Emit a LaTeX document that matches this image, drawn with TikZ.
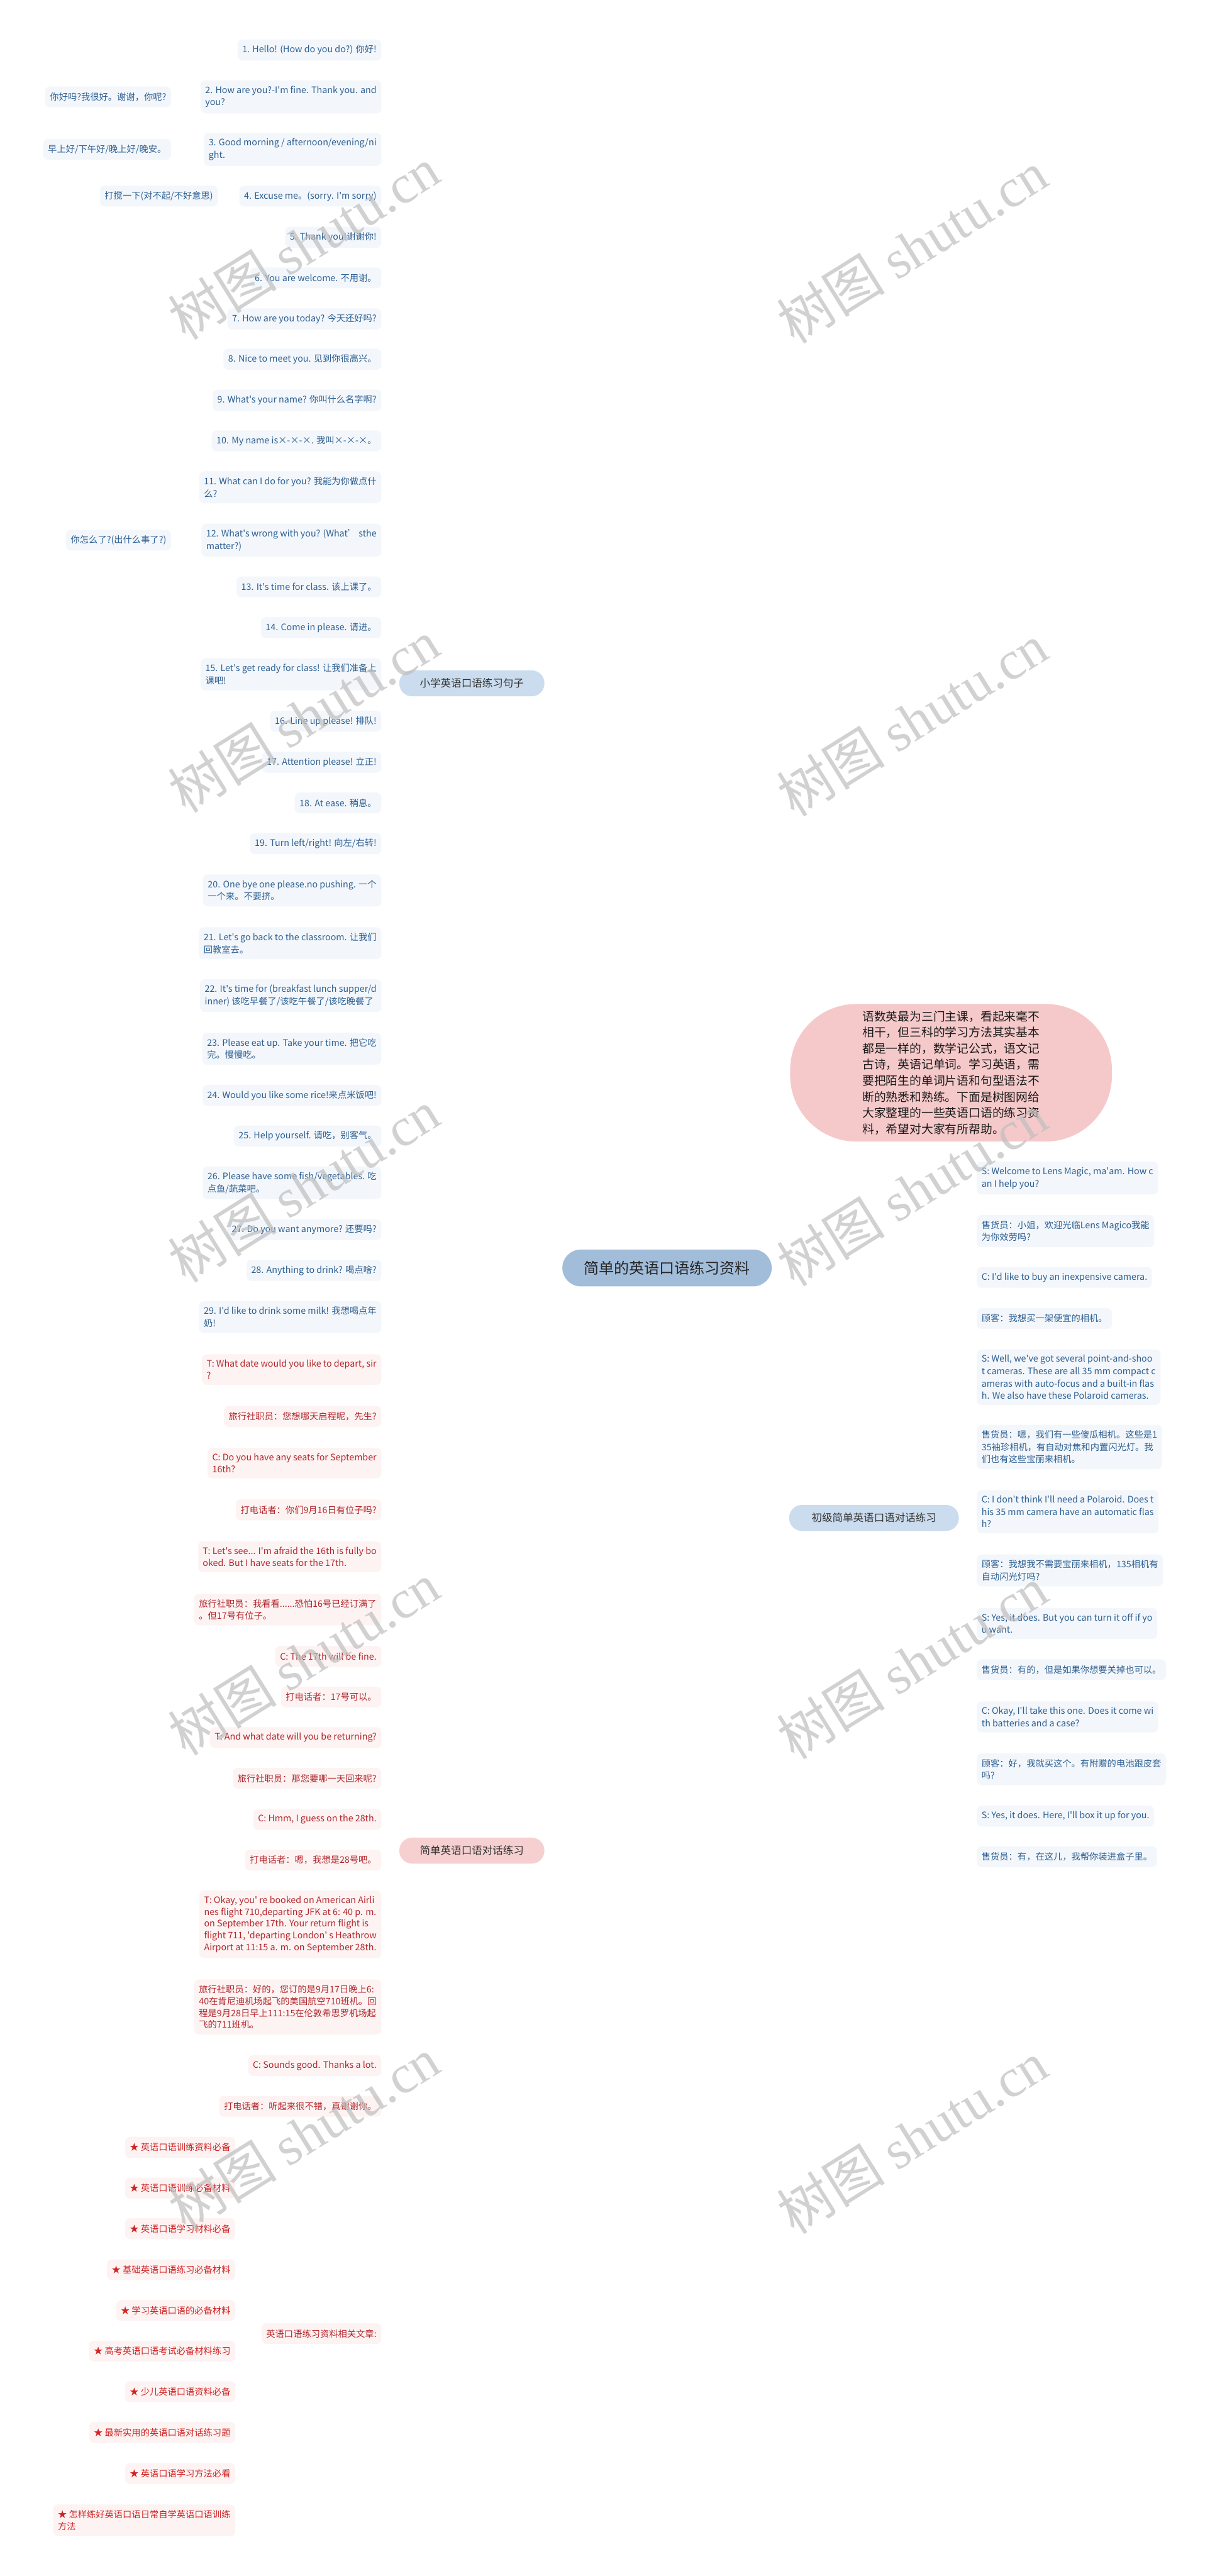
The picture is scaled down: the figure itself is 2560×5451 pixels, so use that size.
\documentclass[tikz,border=0pt]{standalone}
\usepackage{fontspec}
\setmainfont{Noto Sans CJK SC}[Ligatures=TeXOff]
\newfontfamily\wmserif{Liberation Serif}
\usetikzlibrary{calc}
\pgfdeclarelayer{bg}
\pgfsetlayers{bg,main}
\definecolor{bfill}{HTML}{F3F7FB}
\definecolor{btext}{HTML}{2D5F92}
\definecolor{bline}{HTML}{C6D8EB}
\definecolor{rfill}{HTML}{FDF3F3}
\definecolor{rtext}{HTML}{B3262B}
\definecolor{rline}{HTML}{F1C2C2}
\definecolor{stext}{HTML}{D02424}
\definecolor{bbfill}{HTML}{CADCEE}
\definecolor{rbfill}{HTML}{F6D0D0}
\definecolor{cfill}{HTML}{A2BDDA}
\definecolor{ifill}{HTML}{F5C9CA}
\definecolor{wm}{HTML}{BEBEBE}
\newcommand\fs[2]{\fontsize{#1}{#2}\selectfont}
\begin{document}
\begin{tikzpicture}[x=1pt,y=-1pt,
 leafb/.style={fill=bfill,text=btext,rounded corners=10,inner xsep=10,inner ysep=12,minimum height=44,align=left,font=\fs{19}{26}},
 leafr/.style={fill=rfill,text=rtext,rounded corners=10,inner xsep=10,inner ysep=12,minimum height=44,align=left,font=\fs{19}{25}},
 leafs/.style={leafr,text=stext},
 conb/.style={draw=bline,line width=2},
 conr/.style={draw=rline,line width=2},
 mainb/.style={draw=bline,line width=3},
 mainr/.style={draw=rline,line width=3},
 branchb/.style={fill=bbfill,text=black!80,rounded corners=27,minimum height=55,font=\fs{22}{26}},
 branchr/.style={fill=rbfill,text=black!80,rounded corners=27,minimum height=55,font=\fs{22}{26}},
 wmark/.style={text=wm,opacity=0.7,rotate=32,font=\fs{115}{120}}
]
\fill[white] (0,0) rectangle (2560,5451);
\useasboundingbox (0,0) rectangle (2560,5451);

% central and branch nodes
\node[fill=cfill,text=black!85,rounded corners=39,minimum width=443,minimum height=78,font=\fs{32}{36}] (root) at (1411.5,2683) {简单的英语口语练习资料};
\coordinate (hub) at (1411,2683);
\node[branchb,minimum width=307] (b1) at (998.5,1446) {小学英语口语练习句子};
\node[branchr,minimum width=307] (b2) at (998.5,3916) {简单英语口语对话练习};
\node[branchb,minimum width=359] (b3) at (1849.5,3212) {初级简单英语口语对话练习};
\node[fill=ifill,text=black!90,rounded corners=140,minimum width=681,minimum height=291,align=left,font=\fs{25}{34}] (intro) at (2012.5,2270) {语数英最为三门主课，看起来毫不\\相干，但三科的学习方法其实基本\\都是一样的，数学记公式，语文记\\古诗，英语记单词。学习英语，需\\要把陌生的单词片语和句型语法不\\断的熟悉和熟练。下面是树图网给\\大家整理的一些英语口语的练习资\\料，希望对大家有所帮助。};

% trunks
\coordinate (t1) at (821,0);
\coordinate (t2) at (824,0);
\coordinate (t3) at (2050,0);
\coordinate (t4) at (517,0);

% branch 1 leaves
\node[leafb,anchor=east] (L1) at (807,106) {1. Hello! (How do you do?) 你好!};
\node[leafb,anchor=east] (L2) at (807,205) {2. How are you?-I'm fine. Thank you. and\\you?};
\node[leafb,anchor=east] (L3) at (807,316) {3. Good morning / afternoon/evening/ni\\ght.};
\node[leafb,anchor=east] (L4) at (807,415) {4. Excuse me。(sorry. I'm sorry)};
\node[leafb,anchor=east] (L5) at (807,502) {5. Thank you!谢谢你!};
\node[leafb,anchor=east] (L6) at (807,588) {6. You are welcome. 不用谢。};
\node[leafb,anchor=east] (L7) at (807,675) {7. How are you today? 今天还好吗?};
\node[leafb,anchor=east] (L8) at (807,760) {8. Nice to meet you. 见到你很高兴。};
\node[leafb,anchor=east] (L9) at (807,847) {9. What's your name? 你叫什么名字啊?};
\node[leafb,anchor=east] (L10) at (807,933) {10. My name is×-×-×. 我叫×-×-×。};
\node[leafb,anchor=east] (L11) at (807,1031) {11. What can I do for you? 我能为你做点什\\么?};
\node[leafb,anchor=east] (L12) at (807,1143) {12. What's wrong with you? (What’ sthe\\matter?)};
\node[leafb,anchor=east] (L13) at (807,1242) {13. It's time for class. 该上课了。};
\node[leafb,anchor=east] (L14) at (807,1328) {14. Come in please. 请进。};
\node[leafb,anchor=east] (L15) at (807,1427) {15. Let's get ready for class! 让我们准备上\\课吧!};
\node[leafb,anchor=east] (L16) at (807,1526) {16. Line up please! 排队!};
\node[leafb,anchor=east] (L17) at (807,1613) {17. Attention please! 立正!};
\node[leafb,anchor=east] (L18) at (807,1699) {18. At ease. 稍息。};
\node[leafb,anchor=east] (L19) at (807,1785) {19. Turn left/right! 向左/右转!};
\node[leafb,anchor=east] (L20) at (807,1884) {20. One bye one please.no pushing. 一个\\一个来。不要挤。};
\node[leafb,anchor=east] (L21) at (807,1996) {21. Let's go back to the classroom. 让我们\\回教室去。};
\node[leafb,anchor=east] (L22) at (807,2107) {22. It's time for (breakfast lunch supper/d\\inner) 该吃早餐了/该吃午餐了/该吃晚餐了};
\node[leafb,anchor=east] (L23) at (807,2219) {23. Please eat up. Take your time. 把它吃\\完。慢慢吃。};
\node[leafb,anchor=east] (L24) at (807,2318) {24. Would you like some rice!来点米饭吧!};
\node[leafb,anchor=east] (L25) at (807,2404) {25. Help yourself. 请吃，别客气。};
\node[leafb,anchor=east] (L26) at (807,2503) {26. Please have some fish/vegetables. 吃\\点鱼/蔬菜吧。};
\node[leafb,anchor=east] (L27) at (807,2602) {27. Do you want anymore? 还要吗?};
\node[leafb,anchor=east] (L28) at (807,2688) {28. Anything to drink? 喝点啥?};
\node[leafb,anchor=east] (L29) at (807,2787) {29. I'd like to drink some milk! 我想喝点年\\奶!};

\node[leafb,anchor=east] (P2) at (362,205) {你好吗?我很好。谢谢，你呢?};
\node[leafb,anchor=east] (P3) at (362,316) {早上好/下午好/晚上好/晚安。};
\node[leafb,anchor=east] (P4) at (461,415) {打搅一下(对不起/不好意思)};
\node[leafb,anchor=east] (P12) at (362,1143) {你怎么了?(出什么事了?)};

% branch 2 leaves
\node[leafr,anchor=east] (R1) at (807,2898) {T: What date would you like to depart, sir\\?};
\node[leafr,anchor=east] (R2) at (807,2997) {旅行社职员：您想哪天启程呢，先生?};
\node[leafr,anchor=east] (R3) at (807,3096) {C: Do you have any seats for September\\16th?};
\node[leafr,anchor=east] (R4) at (807,3195) {打电话者：你们9月16日有位子吗?};
\node[leafr,anchor=east] (R5) at (807,3294) {T: Let's see... I'm afraid the 16th is fully bo\\oked. But I have seats for the 17th.};
\node[leafr,anchor=east] (R6) at (807,3406) {旅行社职员：我看看......恐怕16号已经订满了\\。但17号有位子。};
\node[leafr,anchor=east] (R7) at (807,3505) {C: The 17th will be fine.};
\node[leafr,anchor=east] (R8) at (807,3591) {打电话者：17号可以。};
\node[leafr,anchor=east] (R9) at (807,3677) {T: And what date will you be returning?};
\node[leafr,anchor=east] (R10) at (807,3763) {旅行社职员：那您要哪一天回来呢?};
\node[leafr,anchor=east] (R11) at (807,3850) {C: Hmm, I guess on the 28th.};
\node[leafr,anchor=east] (R12) at (807,3936) {打电话者：嗯，我想是28号吧。};
\node[leafr,anchor=east] (R13) at (807,4072) {T: Okay, you' re booked on American Airli\\nes flight 710,departing JFK at 6: 40 p. m.\\on September 17th. Your return flight is\\flight 711, 'departing London' s Heathrow\\Airport at 11:15 a. m. on September 28th.};
\node[leafr,anchor=east] (R14) at (807,4247) {旅行社职员：好的，您订的是9月17日晚上6:\\40在肯尼迪机场起飞的美国航空710班机。回\\程是9月28日早上111:15在伦敦希思罗机场起\\飞的711班机。};
\node[leafr,anchor=east] (R15) at (807,4371) {C: Sounds good. Thanks a lot.};
\node[leafr,anchor=east] (R16) at (807,4457) {打电话者：听起来很不错，真谢谢你。};
\node[leafr,anchor=east] (R17) at (807,4938) {英语口语练习资料相关文章:};

\node[leafs,anchor=east] (S1) at (498,4544) {★ 英语口语训练资料必备};
\node[leafs,anchor=east] (S2) at (498,4630) {★ 英语口语训练必备材料};
\node[leafs,anchor=east] (S3) at (498,4716) {★ 英语口语学习材料必备};
\node[leafs,anchor=east] (S4) at (498,4803) {★ 基础英语口语练习必备材料};
\node[leafs,anchor=east] (S5) at (498,4889) {★ 学习英语口语的必备材料};
\node[leafs,anchor=east] (S6) at (498,4975) {★ 高考英语口语考试必备材料练习};
\node[leafs,anchor=east] (S7) at (498,5061) {★ 少儿英语口语资料必备};
\node[leafs,anchor=east] (S8) at (498,5147) {★ 最新实用的英语口语对话练习题};
\node[leafs,anchor=east] (S9) at (498,5234) {★ 英语口语学习方法必看};
\node[leafs,anchor=east] (S10) at (498,5333) {★ 怎样练好英语口语日常自学英语口语训练\\方法};

% right branch leaves
\node[leafb,anchor=west] (T1) at (2067,2493) {S: Welcome to Lens Magic, ma'am. How c\\an I help you?};
\node[leafb,anchor=west] (T2) at (2067,2605) {售货员：小姐，欢迎光临Lens Magico我能\\为你效劳吗?};
\node[leafb,anchor=west] (T3) at (2067,2703) {C: I'd like to buy an inexpensive camera.};
\node[leafb,anchor=west] (T4) at (2067,2790) {顾客：我想买一架便宜的相机。};
\node[leafb,anchor=west] (T5) at (2067,2914) {S: Well, we've got several point-and-shoo\\t cameras. These are all 35 mm compact c\\ameras with auto-focus and a built-in flas\\h. We also have these Polaroid cameras.};
\node[leafb,anchor=west] (T6) at (2067,3062) {售货员：嗯，我们有一些傻瓜相机。这些是1\\35袖珍相机，有自动对焦和内置闪光灯。我\\们也有这些宝丽来相机。};
\node[leafb,anchor=west] (T7) at (2067,3199) {C: I don't think I'll need a Polaroid. Does t\\his 35 mm camera have an automatic flas\\h?};
\node[leafb,anchor=west] (T8) at (2067,3323) {顾客：我想我不需要宝丽来相机，135相机有\\自动闪光灯吗?};
\node[leafb,anchor=west] (T9) at (2067,3435) {S: Yes, it does. But you can turn it off if yo\\u want.};
\node[leafb,anchor=west] (T10) at (2067,3533) {售货员：有的，但是如果你想要关掉也可以。};
\node[leafb,anchor=west] (T11) at (2067,3633) {C: Okay, I'll take this one. Does it come wi\\th batteries and a case?};
\node[leafb,anchor=west] (T12) at (2067,3744) {顾客：好，我就买这个。有附赠的电池跟皮套\\吗?};
\node[leafb,anchor=west] (T13) at (2067,3843) {S: Yes, it does. Here, I'll box it up for you.};
\node[leafb,anchor=west] (T14) at (2067,3929) {售货员：有，在这儿，我帮你装进盒子里。};

\begin{pgfonlayer}{bg}
\draw[mainb] (hub) .. controls (1411,1720) and (1310,1446) .. (b1.east);
\draw[mainr] (hub) .. controls (1411,3640) and (1310,3916) .. (b2.east);
\draw[mainr] (hub) .. controls (1411,2400) and (1480,2271) .. (intro.west);
\draw[mainb] (hub) .. controls (1411,2966) and (1480,3212) .. (b3.west);
\foreach \i in {1,...,29}{
 \draw[conb] (b1.west) .. controls (b1.west -| t1) and (L\i.east -| t1) .. (L\i.east);
}
\foreach \i in {2,3,4,12}{
 \draw[conb] (P\i.east) -- (L\i.west);
}
\foreach \i in {1,...,17}{
 \draw[conr] (b2.west) .. controls (b2.west -| t2) and (R\i.east -| t2) .. (R\i.east);
}
\foreach \i in {1,...,10}{
 \draw[conr] (R17.west) .. controls (R17.west -| t4) and (S\i.east -| t4) .. (S\i.east);
}
\foreach \i in {1,...,14}{
 \draw[conb] (b3.east) .. controls (b3.east -| t3) and (T\i.west -| t3) .. (T\i.west);
}
\end{pgfonlayer}

% watermarks
\foreach \k/\y in {1/515,2/1515,3/2510,4/3510,5/4515}{
 \node[wmark] (wl\k) at (643,\y) {树图 {\wmserif shutu.cn}};
 \node[wmark] (wr\k) at (1930,\y+8) {树图 {\wmserif shutu.cn}};
}
\end{tikzpicture}
\end{document}
